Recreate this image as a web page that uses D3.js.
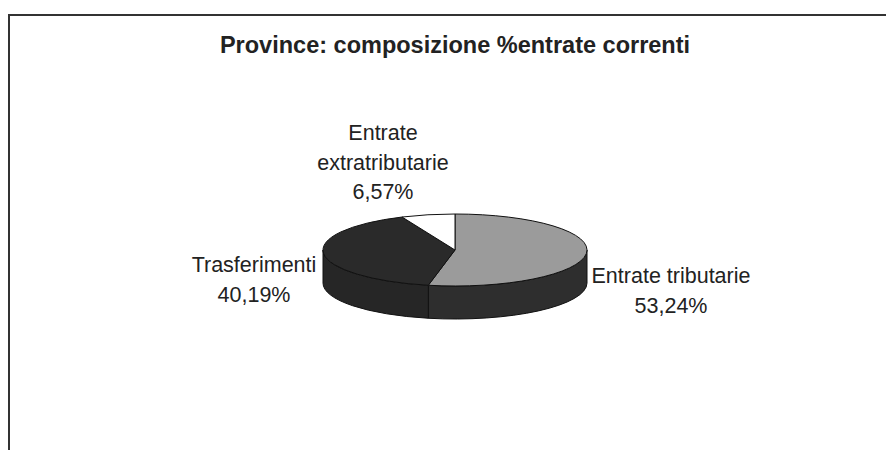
<!DOCTYPE html>
<html>
<head>
<meta charset="utf-8">
<script src="https://cdn.jsdelivr.net/npm/d3@7"></script>
<style>
  body { margin: 0; background: #fff; }
  text { font-family: "Liberation Sans", Arial, sans-serif; fill: #222; }
</style>
</head>
<body>
<script>
// slices in drawing order, clockwise from 12 o'clock
const categories = ["Entrate tributarie", "Trasferimenti", "Entrate extratributarie"];
const shares = [53.24, 40.19, 6.57];
const shareLabels = ["53,24%", "40,19%", "6,57%"];
const labelLines = [["Entrate tributarie"], ["Trasferimenti"], ["Entrate", "extratributarie"]];
const title = "Province: composizione %entrate correnti";

const width = 886, height = 450;
const cx = 455, cy = 250, rx = 132, ry = 36, depth = 33;

const topColor = d3.scaleOrdinal()
    .domain(categories)
    .range(["#9b9b9b", "#2a2a2a", "#ffffff"]);
const sideColor = d3.scaleOrdinal()
    .domain(categories)
    .range(["#2e2e2e", "#262626", "#d0d0d0"]);

const svg = d3.select("body").append("svg")
    .attr("width", width)
    .attr("height", height);

// frame (only top and left edges are in the picture)
svg.append("path")
    .attr("d", `M9,${height} L9,15 L${width},15`)
    .attr("fill", "none")
    .attr("stroke", "#333")
    .attr("stroke-width", 2);

svg.append("text")
    .attr("x", cx)
    .attr("y", 53)
    .attr("text-anchor", "middle")
    .attr("font-weight", "bold")
    .attr("font-size", 23.5)
    .text(title);

const pie = d3.pie().sort(null).value(d => d.value);
const arcs = pie(categories.map((c, i) => ({ name: c, value: shares[i] })));

const pt = (a, dy = 0) => [cx + rx * Math.sin(a), cy - ry * Math.cos(a) + dy];

function topPath(d) {
  const p0 = pt(d.startAngle), p1 = pt(d.endAngle);
  const large = d.endAngle - d.startAngle > Math.PI ? 1 : 0;
  return `M${cx},${cy} L${p0} A${rx},${ry} 0 ${large} 1 ${p1} Z`;
}

function sidePath(d) {
  const s = Math.max(d.startAngle, Math.PI / 2);
  const e = Math.min(d.endAngle, Math.PI * 1.5);
  if (e <= s) return null;
  const t0 = pt(s), t1 = pt(e), b0 = pt(s, depth), b1 = pt(e, depth);
  return `M${t0} A${rx},${ry} 0 0 1 ${t1} L${b1} A${rx},${ry} 0 0 0 ${b0} Z`;
}

const pieG = svg.append("g");

pieG.selectAll("path.side")
    .data(arcs.filter(d => sidePath(d)))
    .enter().append("path")
    .attr("class", "side")
    .attr("d", sidePath)
    .attr("fill", d => sideColor(d.data.name))
    .attr("stroke", "#111")
    .attr("stroke-width", 1);

pieG.selectAll("path.top")
    .data(arcs)
    .enter().append("path")
    .attr("class", "top")
    .attr("d", topPath)
    .attr("fill", d => topColor(d.data.name))
    .attr("stroke", "#111")
    .attr("stroke-width", 1);

// label anchors: centre x and first baseline
const labelPos = [[671, 283], [254, 272], [383, 140]];

const labels = svg.selectAll("text.label")
    .data(arcs)
    .enter().append("text")
    .attr("class", "label")
    .attr("text-anchor", "middle")
    .attr("font-size", 21.5)
    .attr("x", (d, i) => labelPos[i][0])
    .attr("y", (d, i) => labelPos[i][1]);

labels.each(function(d, i) {
  const t = d3.select(this);
  const lines = labelLines[i].concat([shareLabels[i]]);
  lines.forEach((l, j) => {
    t.append("tspan")
      .attr("x", labelPos[i][0])
      .attr("dy", j === 0 ? 0 : 29.5)
      .text(l);
  });
});
</script>
</body>
</html>
